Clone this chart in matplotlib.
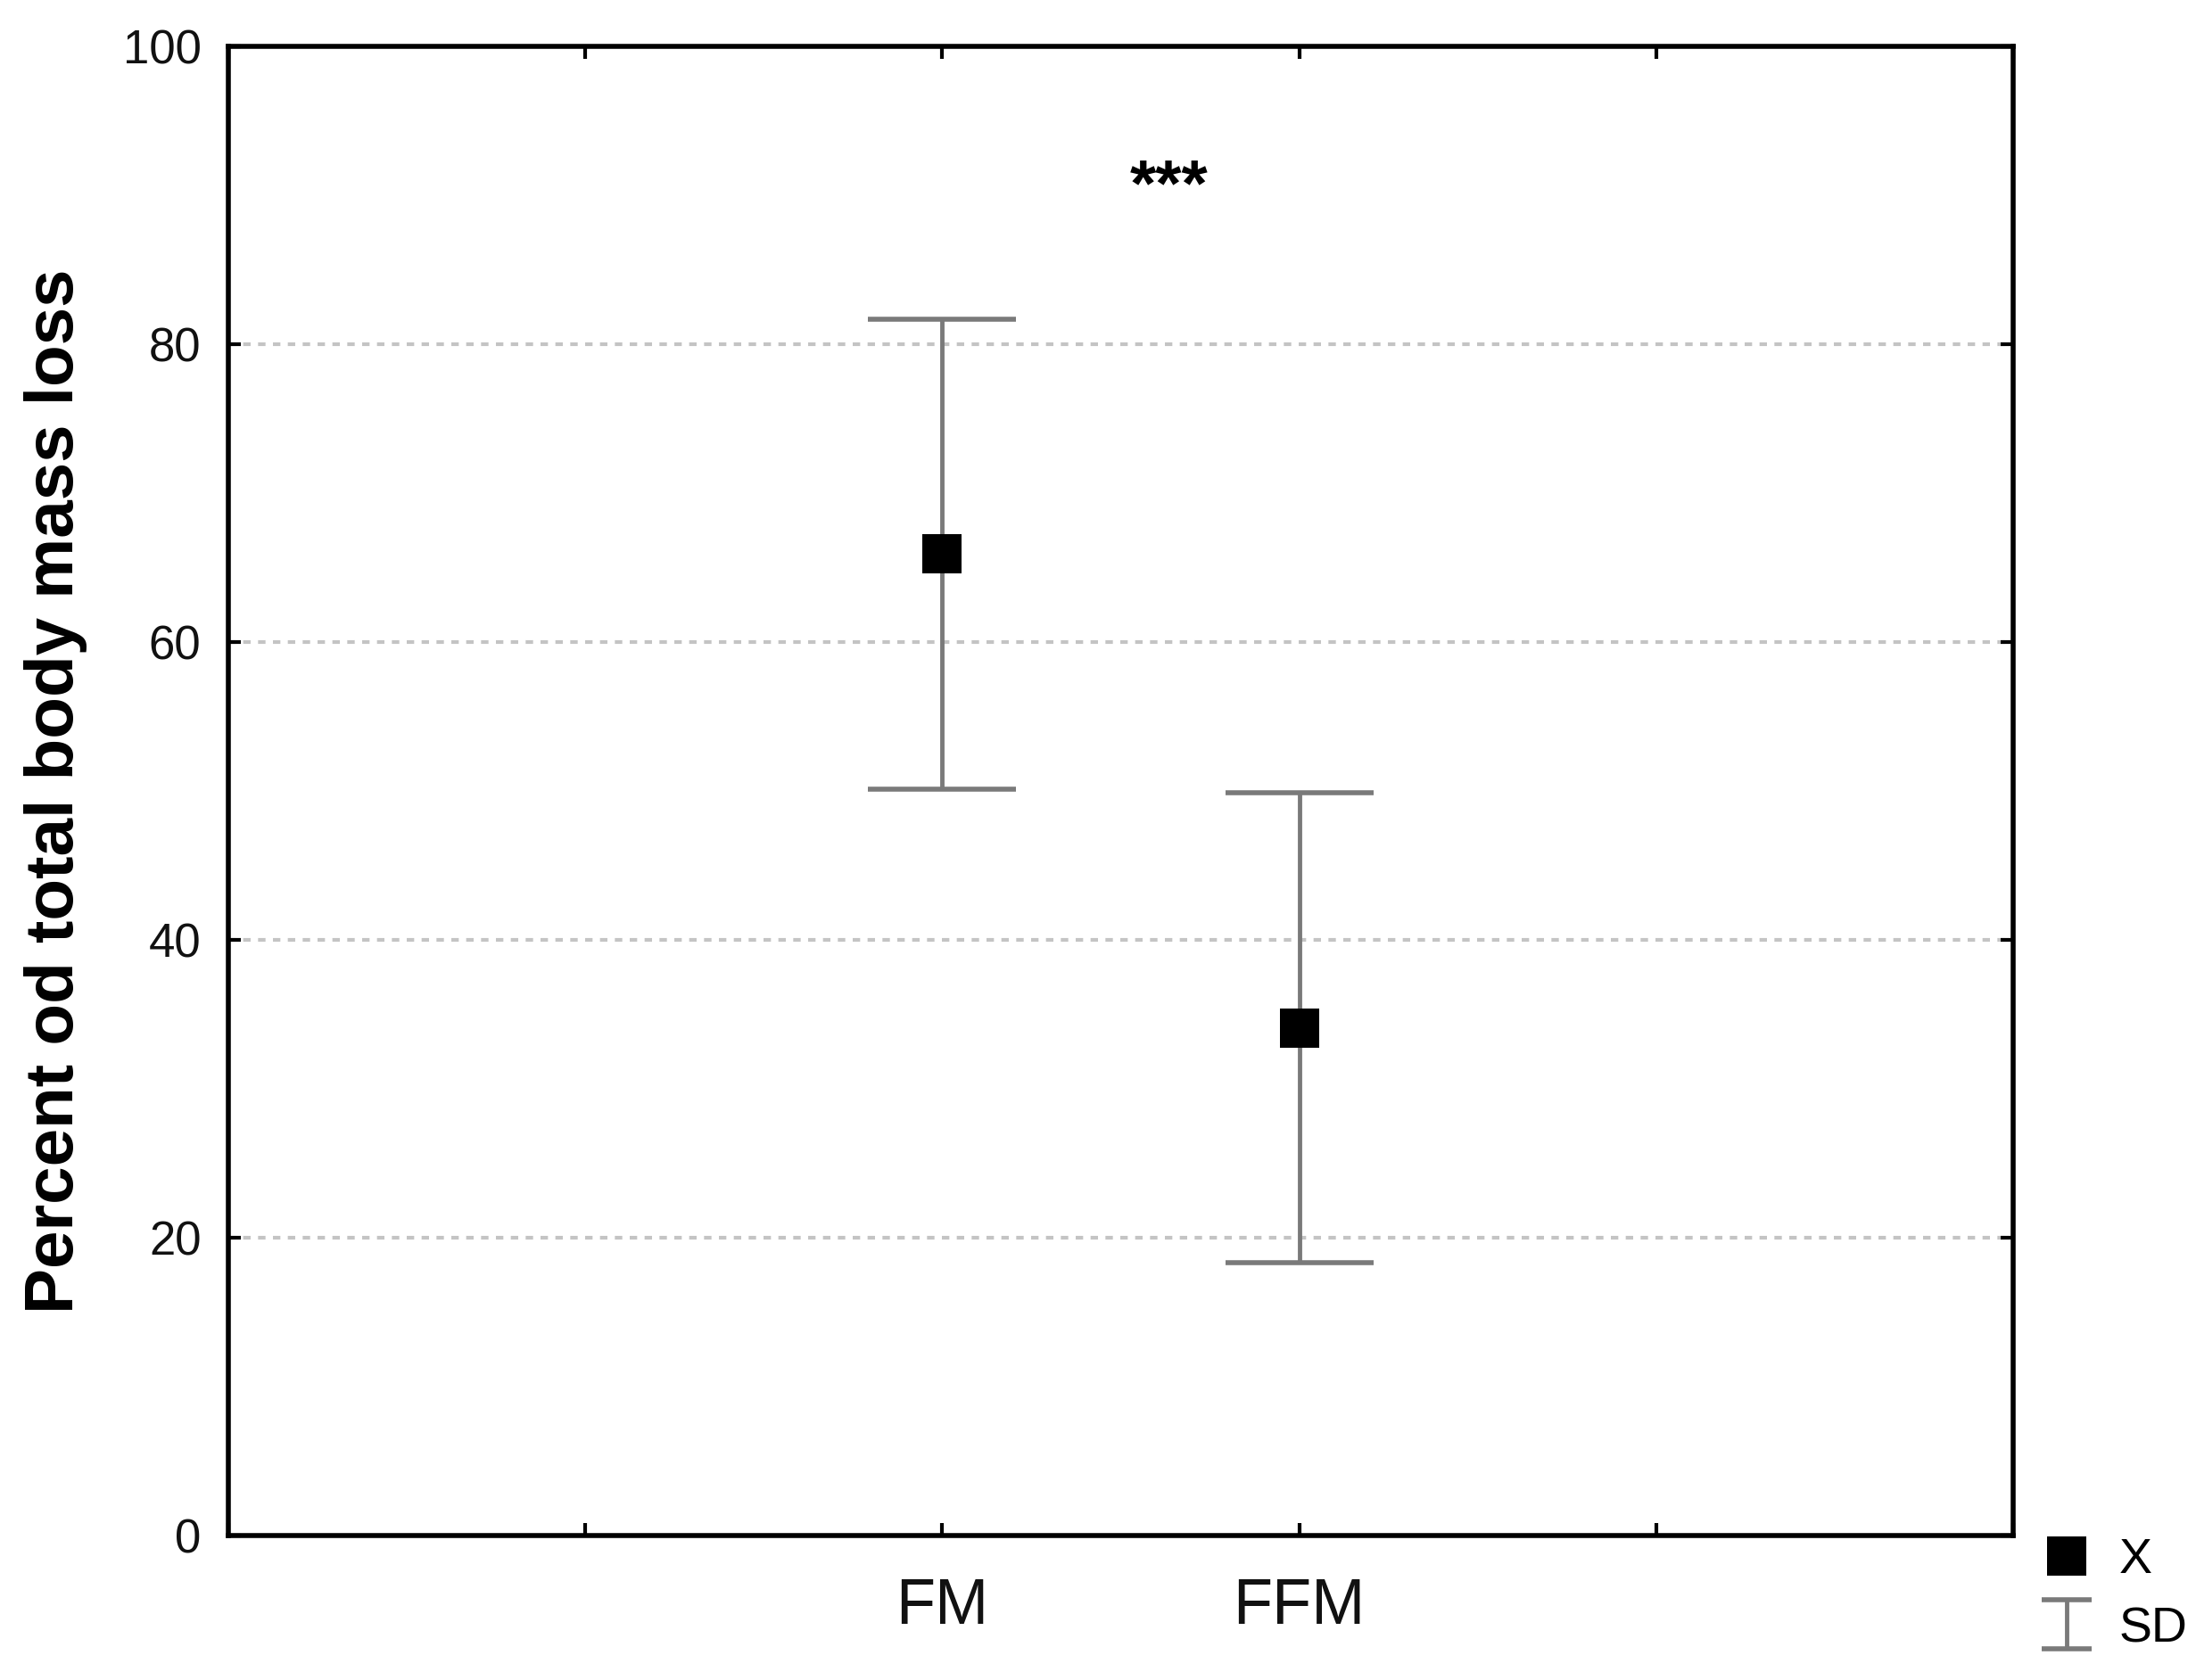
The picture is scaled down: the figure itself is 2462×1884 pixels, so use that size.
import matplotlib
matplotlib.use("Agg")
import matplotlib.pyplot as plt
from matplotlib.legend_handler import HandlerErrorbar
from matplotlib.lines import Line2D
import numpy as np

# ---- data ----
categories = ["FM", "FFM"]
cat_pos = [2, 3]
means = [65.9, 34.1]
sds = [15.8, 15.8]
xtick_pos = [0, 1, 2, 3, 4, 5]
xtick_labels = ["", "", "FM", "FFM", "", ""]
ytick_vals = [0, 20, 40, 60, 80, 100]
grid_vals = [20, 40, 60, 80]
ylabel = "Percent od total body mass loss"
signif = "***"

NARROW = ["Liberation Sans Narrow", "Liberation Sans", "DejaVu Sans"]
BOLD = ["Liberation Sans", "DejaVu Sans"]

fig = plt.figure(figsize=(24.62, 18.84), dpi=100)
ax = fig.add_axes([256 / 2462, 1 - 1722 / 1884, (2257 - 256) / 2462, (1722 - 52) / 1884])

ax.set_xlim(0, 5)
ax.set_ylim(0, 100)

for g in grid_vals:
    ax.axhline(g, color="#c4c4c4", lw=3, linestyle=(0, (2, 2)), zorder=1)

eb = ax.errorbar(cat_pos, means, yerr=sds, fmt="none", ecolor="#7a7a7a",
                 elinewidth=3.5, capsize=60, capthick=4, zorder=2, label="SD")
ax.plot(cat_pos, means, "s", color="black", ms=31, mew=0, zorder=3,
        label="X", linestyle="none")

ax.text(2.636, 90.5, signif, ha="center", va="center", fontsize=54,
        fontweight="bold", family=BOLD, color="black")

ax.set_xticks(xtick_pos)
ax.set_xticklabels(xtick_labels, family=NARROW, fontsize=52, color="#111111")
ax.set_yticks(ytick_vals)
ax.set_yticklabels([str(v) for v in ytick_vals], family=NARROW, fontsize=38,
                   color="#111111")
ax.tick_params(axis="both", direction="in", length=10, width=3,
               top=True, right=True, color="black")
ax.tick_params(axis="x", pad=34)
ax.tick_params(axis="y", pad=22)

for sp in ax.spines.values():
    sp.set_linewidth(4)
    sp.set_color("black")

fig.text(63 / 2462, 1 - 887 / 1884, ylabel, rotation=90, ha="center",
         va="center", fontsize=55, fontweight="bold", family=BOLD)


class SDHandler(HandlerErrorbar):
    def create_artists(self, *args, **kwargs):
        arts = super().create_artists(*args, **kwargs)
        for a in arts:
            if isinstance(a, Line2D) and a.get_marker() == "_":
                a.set_markersize(40)
        return arts


handles, labels = ax.get_legend_handles_labels()
order = [labels.index("X"), labels.index("SD")]
leg = ax.legend([handles[i] for i in order], [labels[i] for i in order],
                loc="upper left", bbox_to_anchor=(2284 / 2462, 1 - 1724 / 1884),
                bbox_transform=fig.transFigure, frameon=False,
                prop={"family": NARROW, "size": 40}, numpoints=1,
                handlelength=1.2, handletextpad=0.45, borderpad=0,
                borderaxespad=0, labelspacing=0.45,
                handler_map={type(eb): SDHandler(yerr_size=0.5)})

fig.savefig("out.png", dpi=100, facecolor="white")
